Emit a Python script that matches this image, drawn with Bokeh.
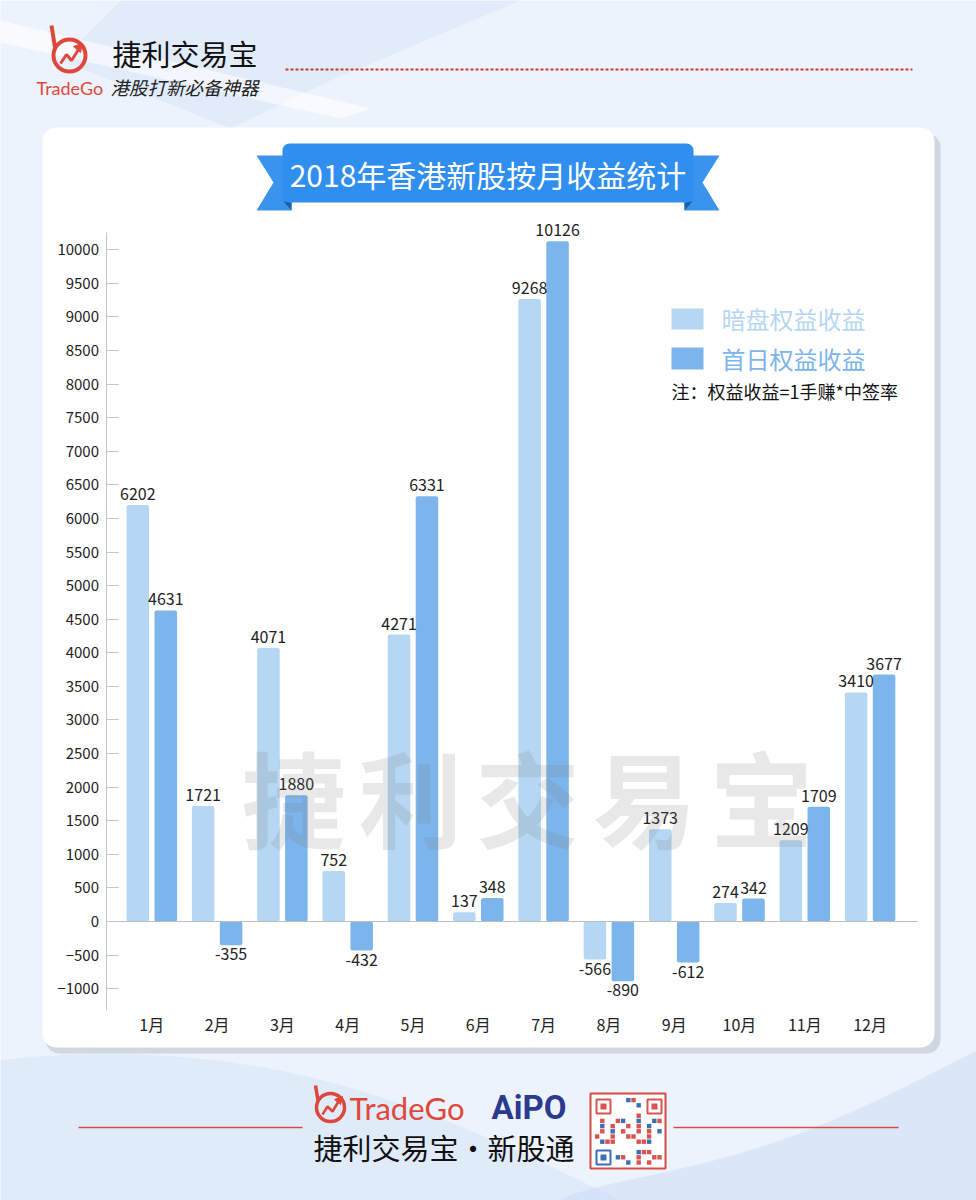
import numpy as np
from bokeh.plotting import figure
from bokeh.models import Range1d, LinearAxis, FixedTicker
from bokeh.core.properties import value
from bokeh.embed import file_html
from bokeh.resources import INLINE

# ---------------- data ----------------
months = ["1月", "2月", "3月", "4月", "5月", "6月", "7月", "8月", "9月", "10月", "11月", "12月"]
dark_pool = [6202, 1721, 4071, 752, 4271, 137, 9268, -566, 1373, 274, 1209, 3410]      # 暗盘权益收益
first_day = [4631, -355, 1880, -432, 6331, 348, 10126, -890, -612, 342, 1709, 3677]    # 首日权益收益
y_ticks = list(range(-1000, 10001, 500))
series_names = ["暗盘权益收益", "首日权益收益"]
title_text = "2018年香港新股按月收益统计"
note_text = "注：权益收益=1手赚*中签率"

# ---------------- layout constants ----------------
W, H = 976, 1200
X0, PITCH = 151.3, 65.3      # pixel x of first month centre, pixels per month
Y0, K = 921.0, 0.06717        # pixel y of zero, pixels per unit
FONT = "Noto Sans CJK SC"
LIGHT = "#b5d7f3"
DARK = "#7cb5ec"
RED = "#e0473c"


def Y(y):
    return H - y


p = figure(width=W, height=H,
           x_range=Range1d(-X0 / PITCH, (W - X0) / PITCH),
           y_range=Range1d(-(H - Y0) / K, Y0 / K),
           x_axis_location=None, y_axis_location=None,
           toolbar_location=None, output_backend="svg",
           min_border=0, outline_line_color=None,
           background_fill_color="#edf3fc", border_fill_color="#edf3fc")
p.title.visible = False
p.grid.visible = False
p.extra_x_ranges = {"px": Range1d(0, W)}
p.extra_y_ranges = {"px": Range1d(0, H)}
PX = dict(x_range_name="px", y_range_name="px")

# ---------------- background decoration ----------------
p.patch([120, 520, 330, 230, 60], [Y(0), Y(0), Y(80), Y(128), Y(60)],
        fill_color="#d3e3f8", fill_alpha=0.45, line_color=None, **PX)
p.patch([0, 0, 340, 370], [Y(20), Y(42), Y(118), Y(108)],
        fill_color="white", fill_alpha=0.6, line_color=None, **PX)
t = np.linspace(0, 1, 60)
wx = t * 620
wy = 1060 + 140 * t ** 1.3 - 40 * np.sin(np.pi * t)
p.patch(list(wx) + [0], [Y(v) for v in wy] + [Y(1200)],
        fill_color="#d3e3f8", fill_alpha=0.5, line_color=None, **PX)
wx2 = 560 + t * 416
wy2 = 1200 - 150 * t ** 0.8 + 30 * np.sin(np.pi * t)
p.patch(list(wx2) + [976], [Y(v) for v in wy2] + [Y(1200)],
        fill_color="#cadcf5", fill_alpha=0.5, line_color=None, **PX)

# ---------------- header ----------------
p.circle(x=[69], y=[Y(55)], radius=16, fill_color=None, line_color=RED, line_width=4, **PX)
p.line([51, 54.5], [Y(25), Y(47)], line_color=RED, line_width=4, **PX)
p.line([60, 66, 71, 78], [Y(63), Y(54), Y(60), Y(49)], line_color=RED, line_width=3, **PX)
p.patch([73, 82, 80], [Y(46), Y(43), Y(52)], fill_color=RED, line_color=RED, **PX)
p.text(x=[112], y=[Y(52)], text=["捷利交易宝"], text_font=value(FONT), text_font_size="29px",
       text_color="#111111", text_align="left", text_baseline="middle", **PX)
p.text(x=[36], y=[Y(87)], text=["TradeGo"], text_font=value("Lato"), text_font_size="18px",
       text_color=RED, text_align="left", text_baseline="middle", **PX)
p.text(x=[110], y=[Y(86)], text=["港股打新必备神器"], text_font=value(FONT), text_font_size="18.5px",
       text_font_style="italic", text_color="#222222", text_align="left", text_baseline="middle", **PX)
p.line([285, 912], [Y(69), Y(69)], line_color="#c43c2e", line_width=2, line_dash="3 2", **PX)

# ---------------- white panel ----------------
p.quad(left=[45], right=[940], top=[Y(133)], bottom=[Y(1053)], fill_color="#c5cad3",
       fill_alpha=0.7, line_color=None, border_radius=14, **PX)
p.quad(left=[42], right=[934], top=[Y(127)], bottom=[Y(1047)], fill_color="white",
       line_color=None, border_radius=14, **PX)

# ---------------- ribbon title ----------------
for sgn in (1, -1):
    def mx(x):
        return x if sgn == 1 else 975 - x
    p.patch([mx(256), mx(291), mx(291), mx(256), mx(273)],
            [Y(155), Y(155), Y(210), Y(210), Y(182)],
            fill_color="#3a94ee", line_color=None, **PX)
    p.patch([mx(283), mx(291), mx(291)], [Y(201), Y(201), Y(210)],
            fill_color="#1c5fae", line_color=None, **PX)
p.quad(left=[282], right=[693], top=[Y(143)], bottom=[Y(202)], fill_color="#2f8eee",
       line_color=None, border_radius=7, **PX)
p.text(x=[487.5], y=[Y(173)], text=[title_text], text_font=value(FONT), text_font_size="30px",
       text_color="white", text_align="center", text_baseline="middle", **PX)

# ---------------- bars ----------------
idx = np.arange(len(months))
OFF, BW = 0.214, 0.345
dp = np.array(dark_pool)
fd = np.array(first_day)
p.vbar(x=idx - OFF, top=dp, bottom=0, width=BW, fill_color=LIGHT, line_color=None, border_radius=2)
p.vbar(x=idx + OFF, top=fd, bottom=0, width=BW, fill_color=DARK, line_color=None, border_radius=2)

for xs, vals in ((idx - OFF, dp), (idx + OFF, fd)):
    pos = vals >= 0
    neg = ~pos
    p.text(x=xs[pos], y=vals[pos], text=[str(v) for v in vals[pos]], text_font=value(FONT),
           text_font_size="16px", text_color="#222222", text_align="center",
           text_baseline="bottom", y_offset=-5)
    p.text(x=xs[neg], y=vals[neg], text=[str(v) for v in vals[neg]], text_font=value(FONT),
           text_font_size="16px", text_color="#222222", text_align="center",
           text_baseline="top", y_offset=3)

# ---------------- watermark ----------------
wm = "捷利交易宝"
p.text(x=[293 + 117 * i for i in range(len(wm))], y=[Y(795)] * len(wm), text=list(wm),
       text_font=value(FONT), text_font_size="104px", text_font_style="bold",
       text_color="#808080", text_alpha=0.18,
       text_align="center", text_baseline="middle", **PX)

# ---------------- axes ----------------
ax_x = -0.701
y_axis = LinearAxis(fixed_location=ax_x, bounds=(-1325, 10257), ticker=FixedTicker(ticks=y_ticks),
                    axis_line_color="#c6c6c6", major_tick_in=12, major_tick_out=0,
                    major_tick_line_color="#c6c6c6", minor_tick_line_color=None,
                    major_label_standoff=7, major_label_text_font=FONT,
                    major_label_text_font_size="15px", major_label_text_color="#222222")
p.add_layout(y_axis, "left")

zero_axis = LinearAxis(fixed_location=0, bounds=(ax_x, 11.725), ticker=FixedTicker(ticks=[]),
                       axis_line_color="#bdbdbd", major_tick_line_color=None,
                       minor_tick_line_color=None, major_label_text_font_size="0px")
p.add_layout(zero_axis, "below")

month_axis = LinearAxis(fixed_location=-1325, ticker=FixedTicker(ticks=list(idx)),
                        major_label_overrides={int(i): m for i, m in zip(idx, months)},
                        axis_line_color=None, major_tick_line_color=None, minor_tick_line_color=None,
                        major_tick_in=0, major_tick_out=0, major_label_standoff=1,
                        major_label_text_font=FONT, major_label_text_font_size="16px",
                        major_label_text_color="#222222")
p.add_layout(month_axis, "below")

# ---------------- legend (manual) ----------------
p.quad(left=[671], right=[703], top=[Y(308)], bottom=[Y(329)], fill_color=LIGHT, line_color=None, **PX)
p.quad(left=[671], right=[703], top=[Y(347)], bottom=[Y(369)], fill_color=DARK, line_color=None, **PX)
p.text(x=[721], y=[Y(318)], text=[series_names[0]], text_font=value(FONT), text_font_size="24px",
       text_color=LIGHT, text_align="left", text_baseline="middle", **PX)
p.text(x=[721], y=[Y(358)], text=[series_names[1]], text_font=value(FONT), text_font_size="24px",
       text_color=DARK, text_align="left", text_baseline="middle", **PX)
p.text(x=[671], y=[Y(390)], text=[note_text], text_font=value(FONT), text_font_size="18px",
       text_color="#111111", text_align="left", text_baseline="middle", **PX)

# ---------------- footer ----------------
p.line([78, 302], [Y(1127), Y(1127)], line_color="#d64b45", line_width=1.5, **PX)
p.line([673, 898], [Y(1127), Y(1127)], line_color="#d64b45", line_width=1.5, **PX)
p.circle(x=[330], y=[Y(1107)], radius=14, fill_color=None, line_color=RED, line_width=3.5, **PX)
p.line([315, 317.5], [Y(1085), Y(1100)], line_color=RED, line_width=3.5, **PX)
p.line([322, 327, 332, 338], [Y(1114), Y(1106), Y(1111), Y(1101)], line_color=RED, line_width=2.5, **PX)
p.patch([334, 342, 340], [Y(1099), Y(1096), Y(1104)], fill_color=RED, line_color=RED, **PX)
p.text(x=[349], y=[Y(1107)], text=["TradeGo"], text_font=value("Lato"), text_font_size="31px",
       text_color=RED, text_align="left", text_baseline="middle", **PX)
p.text(x=[491], y=[Y(1107)], text=["AiPO"], text_font=value("Roboto"), text_font_size="33px",
       text_font_style="bold", text_color="#2b3a8f", text_align="left", text_baseline="middle", **PX)
p.text(x=[313], y=[Y(1146)], text=["捷利交易宝·新股通"], text_font=value(FONT), text_font_size="29px",
       text_color="#111111", text_align="left", text_baseline="middle", **PX)

# QR-like badge
p.quad(left=[590], right=[665], top=[Y(1093)], bottom=[Y(1168)], fill_color="white",
       line_color="#d64b45", line_width=2, **PX)
cells_x, cells_y, cells_c = [], [], []
n = 13
for i in range(n):
    for j in range(n):
        if (i < 4 and j < 4) or (i < 4 and j > n - 5) or (i > n - 5 and j < 4):
            continue
        if (i * i * 3 + j * 5 + i * j) % 7 < 3:
            cells_x.append(594 + 5.2 * j + 2.6)
            cells_y.append(Y(1097 + 5.2 * i + 2.6))
            cells_c.append("#d9534f" if (i + j) % 3 else "#3b6fb6")
p.rect(x=cells_x, y=cells_y, width=4.4, height=4.4, fill_color=cells_c, line_color=None, **PX)
for (fx, fy, fc) in ((596, 1099, "#d9534f"), (647, 1099, "#d9534f"), (596, 1150, "#3b6fb6")):
    p.quad(left=[fx], right=[fx + 14], top=[Y(fy)], bottom=[Y(fy + 14)], fill_color=None,
           line_color=fc, line_width=2, **PX)
    p.quad(left=[fx + 4], right=[fx + 10], top=[Y(fy + 4)], bottom=[Y(fy + 10)], fill_color=fc,
           line_color=None, **PX)

open("out.html", "w").write(file_html(p, INLINE))
